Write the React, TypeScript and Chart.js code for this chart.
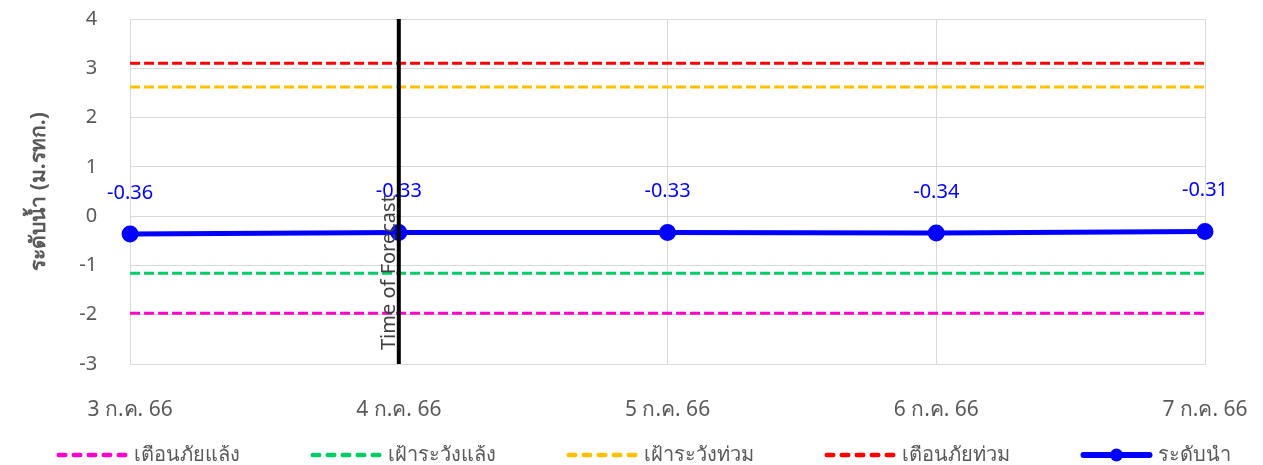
import React, { useEffect, useRef } from "react";
import { Chart, registerables } from "chart.js";

Chart.register(...registerables);

const categories = ["3 ก.ค. 66", "4 ก.ค. 66", "5 ก.ค. 66", "6 ก.ค. 66", "7 ก.ค. 66"];
const droughtWarning = [-1.97, -1.97, -1.97, -1.97, -1.97];
const droughtWatch = [-1.16, -1.16, -1.16, -1.16, -1.16];
const floodWatch = [2.62, 2.62, 2.62, 2.62, 2.62];
const floodWarning = [3.1, 3.1, 3.1, 3.1, 3.1];
const waterLevel = [-0.36, -0.33, -0.33, -0.34, -0.31];
const yTicks = { min: -3, max: 4, step: 1 };
const forecastCategory = "4 ก.ค. 66";
const forecastText = "Time of Forecast";
const yTitle = "ระดับน้ำ (ม.รทก.)";

const FONT = "'Noto Sans', 'DejaVu Sans', sans-serif";
const GRAY = "#595959";
const LEGEND_BOX = 138;
const LEGEND_IMG = 148;
const LEGEND_LINE = 72;

function legendImage(color: string, dashed: boolean, marker: boolean): HTMLCanvasElement {
  const c = document.createElement("canvas");
  c.width = LEGEND_IMG;
  c.height = 16;
  const ctx = c.getContext("2d")!;
  const end = LEGEND_IMG - 0.5;
  const start = end - LEGEND_LINE;
  ctx.strokeStyle = color;
  ctx.fillStyle = color;
  ctx.lineCap = "round";
  const lw = dashed ? 4.5 : 6;
  ctx.lineWidth = lw;
  if (dashed) ctx.setLineDash([6.5, 8.5]);
  ctx.beginPath();
  ctx.moveTo(start + lw / 2, 8);
  ctx.lineTo(end - lw / 2, 8);
  ctx.stroke();
  if (marker) {
    ctx.beginPath();
    ctx.arc((start + end) / 2, 8, 6.5, 0, Math.PI * 2);
    ctx.fill();
  }
  return c;
}

const dataLabelPlugin = {
  id: "dataLabels",
  afterDatasetsDraw(chart: any) {
    const ctx = chart.ctx;
    const meta = chart.getDatasetMeta(4);
    ctx.save();
    ctx.fillStyle = "#0000ff";
    ctx.font = `20px ${FONT}`;
    ctx.textAlign = "center";
    ctx.textBaseline = "middle";
    meta.data.forEach((el: any, i: number) => {
      ctx.fillText(waterLevel[i].toFixed(2), el.x, el.y - 41);
    });
    ctx.restore();
  },
};

const forecastPlugin = {
  id: "forecastLine",
  afterDatasetsDraw(chart: any) {
    const ctx = chart.ctx;
    const x = chart.scales.x.getPixelForValue(categories.indexOf(forecastCategory));
    const { top, bottom } = chart.chartArea;
    ctx.save();
    ctx.strokeStyle = "#000000";
    ctx.lineWidth = 4;
    ctx.beginPath();
    ctx.moveTo(x, top);
    ctx.lineTo(x, bottom);
    ctx.stroke();
    ctx.translate(x - 4, bottom - 14);
    ctx.rotate(-Math.PI / 2);
    ctx.fillStyle = "#404040";
    ctx.font = `20px ${FONT}`;
    ctx.textAlign = "left";
    ctx.textBaseline = "alphabetic";
    ctx.fillText(forecastText, 0, 0);
    ctx.restore();
  },
};

export default function App() {
  const ref = useRef<HTMLCanvasElement>(null);
  useEffect(() => {
    const dash = [10, 4];
    const colors = ["#ff00cc", "#00cc66", "#ffc000", "#ff0000", "#0000ff"];
    const legendImages = colors.map((c, i) => legendImage(c, i < 4, i === 4));
    const chart = new Chart(ref.current!, {
      type: "line",
      data: {
        labels: categories,
        datasets: [
          { label: "เตือนภัยแล้ง", data: droughtWarning, borderColor: colors[0], backgroundColor: colors[0], borderWidth: 3, borderDash: dash, pointRadius: 0 },
          { label: "เฝ้าระวังแล้ง", data: droughtWatch, borderColor: colors[1], backgroundColor: colors[1], borderWidth: 3, borderDash: dash, pointRadius: 0 },
          { label: "เฝ้าระวังท่วม", data: floodWatch, borderColor: colors[2], backgroundColor: colors[2], borderWidth: 3, borderDash: dash, pointRadius: 0 },
          { label: "เตือนภัยท่วม", data: floodWarning, borderColor: colors[3], backgroundColor: colors[3], borderWidth: 3, borderDash: dash, pointRadius: 0 },
          { label: "ระดับน้ำ", data: waterLevel, borderColor: colors[4], backgroundColor: colors[4], borderWidth: 5, pointRadius: 6, pointStyle: "circle" },
        ],
      },
      options: {
        animation: false,
        responsive: false,
        maintainAspectRatio: false,
        layout: { padding: { left: -14, right: 0, top: 0, bottom: 0 } },
        plugins: {
          tooltip: { enabled: false },
          legend: {
            position: "bottom",
            align: "start",
            maxHeight: 20,
            labels: {
              usePointStyle: true,
              pointStyleWidth: LEGEND_BOX,
              boxHeight: 16,
              padding: 0,
              color: GRAY,
              font: { family: FONT, size: 20 },
              generateLabels: (ch: any) =>
                ch.data.datasets.map((ds: any, i: number) => ({
                  text: ds.label,
                  pointStyle: legendImages[i],
                  fillStyle: ds.borderColor,
                  strokeStyle: ds.borderColor,
                  lineWidth: 0,
                  hidden: false,
                  datasetIndex: i,
                  fontColor: GRAY,
                })),
            },
          },
        },
        scales: {
          x: {
            offset: false,
            afterFit: (scale: any) => {
              scale.height = 81;
            },
            grid: { color: "#d9d9d9", lineWidth: 1, drawTicks: true, tickLength: 29, tickColor: "rgba(0,0,0,0)" },
            border: { color: "#d9d9d9" },
            ticks: { color: GRAY, padding: 4, font: { family: FONT, size: 21 }, maxRotation: 0 },
          },
          y: {
            min: yTicks.min,
            max: yTicks.max,
            grid: { color: "#d9d9d9", lineWidth: 1, drawTicks: true, tickLength: 26, tickColor: "rgba(0,0,0,0)" },
            border: { color: "#d9d9d9" },
            ticks: { stepSize: yTicks.step, color: GRAY, padding: 7, font: { family: FONT, size: 20 } },
            title: { display: true, text: yTitle, color: GRAY, padding: { top: 40, bottom: 21 }, font: { family: FONT, size: 21, weight: "bold" } },
          },
          yRightSpace: {
            type: "linear",
            position: "right",
            display: true,
            min: yTicks.min,
            max: yTicks.max,
            grid: { drawOnChartArea: false, drawTicks: false },
            border: { display: false },
            ticks: { display: false },
            afterFit: (scale: any) => {
              scale.width = 58;
            },
          },
        },
      },
      plugins: [dataLabelPlugin, forecastPlugin],
    } as any);
    return () => chart.destroy();
  }, []);
  return (
    <div style={{ position: "fixed", left: 0, top: 0, width: 1263, height: 465, background: "#fff" }}>
      <canvas ref={ref} width={1263} height={465} style={{ width: 1263, height: 465 }} />
    </div>
  );
}
